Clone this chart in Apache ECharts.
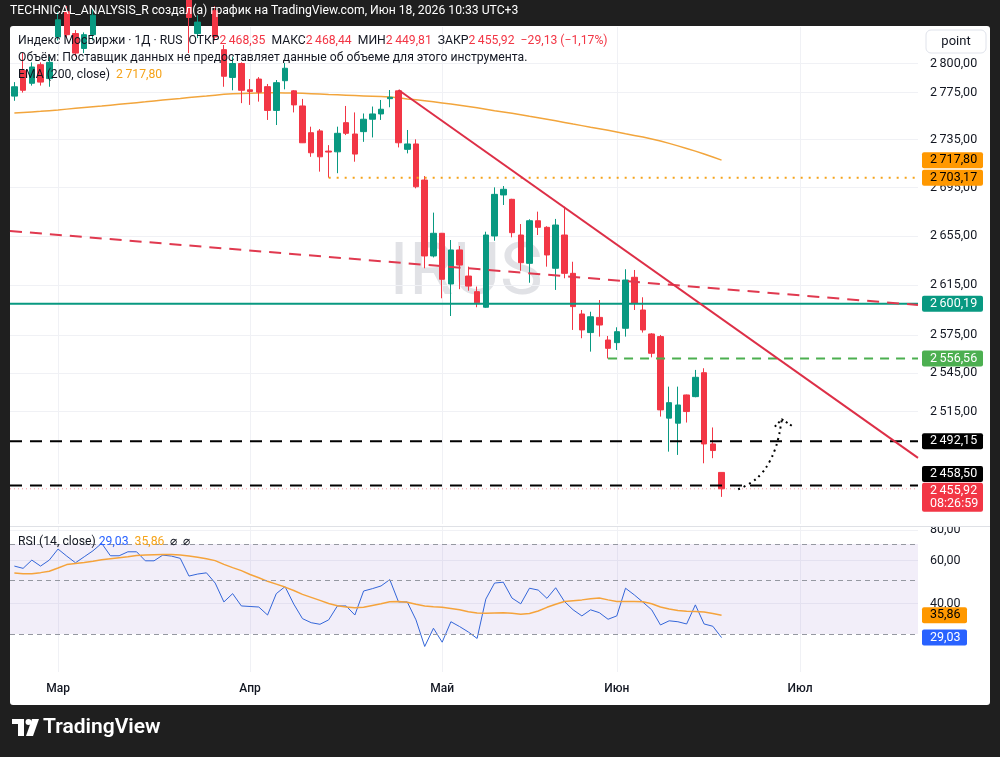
<!DOCTYPE html>
<html>
<head>
<meta charset="utf-8">
<title>IRUS</title>
<script src="https://cdn.jsdelivr.net/npm/echarts@6/dist/echarts.min.js"></script>
<style>
  html, body { margin: 0; padding: 0; background: #1f1f1f; }
  #chart { width: 1000px; height: 757px; }
</style>
</head>
<body>
<div id="chart"></div>
<script>
// торговые дни (категории оси X)
var febDays = [20, 24, 25, 26, 27];
var marDays = [2,3,4,5,6,9,10,11,12,13,16,17,18,19,20,23,24,25,26,27,30,31];
var aprDays = [1,2,3,6,7,8,9,10,13,14,15,16,17,20,21,22,23,24,27,28,29,30];
var mayDays = [4,5,6,7,8,11,12,13,14,15,18,19,20,21,22,25,26,27,28,29];
var junDays = [1,2,3,4,5,8,9,10,11,15,16,17,18,19,22,23,24,25,26,29,30];
var julDays = [1,2,3,6,7,8,9,10,13,14,15,16,17,20];
var monthNames = { '03': 'Мар', '04': 'Апр', '05': 'Май', '06': 'Июн', '07': 'Июл' };

// свечи: [откр, закр, мин, макс]
var candles = [
  [2772, 2780, 2768, 2784], [2794, 2777, 2775, 2809], [2783, 2797, 2781, 2801], [2799, 2784, 2781, 2801], [2787, 2801, 2780, 2806],
  [2823, 2838, 2820, 2845], [2845, 2825, 2822, 2850], [2826, 2809, 2806, 2829], [2813, 2825, 2809, 2827], [2825, 2842, 2820, 2848],
  [2842, 2858, 2836, 2862], [2858, 2850, 2844, 2866], [2850, 2868, 2846, 2874], [2868, 2880, 2860, 2888], [2880, 2872, 2865, 2890],
  [2872, 2862, 2855, 2884], [2862, 2858, 2848, 2870], [2858, 2870, 2852, 2876], [2870, 2866, 2856, 2878], [2866, 2860, 2848, 2872],
  [2860, 2840, 2809, 2864], [2826, 2836, 2822, 2842], [2836, 2848, 2834, 2852], [2846, 2823, 2820, 2850], [2812, 2789, 2780, 2816],
  [2788, 2800, 2777, 2806], [2800, 2777, 2766, 2801], [2777.4, 2776, 2764.5, 2786.6], [2786.6, 2775.4, 2767.3, 2788.3], [2780.1, 2759.8, 2751.7, 2782.4],
  [2759.8, 2783.5, 2747.4, 2785.8], [2785.2, 2795.9, 2777.8, 2800.4], [2776.5, 2764.5, 2758.1, 2777.1], [2763.6, 2732.4, 2732.2, 2769.6], [2740.9, 2724.0, 2720.6, 2746.0],
  [2742.4, 2720.6, 2708.2, 2744.0], [2725.4, 2724.6, 2703.17, 2730.4], [2724.8, 2740.4, 2706.9, 2746.0], [2749.4, 2740.4, 2738.9, 2763.6], [2739.8, 2722.9, 2716.5, 2758.1],
  [2741.8, 2752.3, 2733.2, 2757.2], [2752.3, 2756.8, 2736.9, 2763.1], [2756.8, 2760.8, 2751.7, 2768.7], [2769.8, 2771.0, 2762.5, 2777.2], [2776.5, 2732.4, 2728.5, 2777.2],
  [2726.9, 2731.4, 2723.5, 2743.2], [2731.4, 2695.6, 2694.3, 2735.3], [2701.2, 2638.7, 2628.7, 2704.5], [2638.7, 2657.2, 2637.5, 2674.2], [2657.2, 2619.8, 2604.5, 2657.5],
  [2616.0, 2643.6, 2590.3, 2651.7], [2643.6, 2631.3, 2611.8, 2646.8], [2622.4, 2614.3, 2610.6, 2630.0], [2609.8, 2600.9, 2597.3, 2613.9], [2597.3, 2655.8, 2596.8, 2658.5],
  [2655.0, 2689.3, 2651.1, 2695.1], [2688.8, 2693.5, 2680.5, 2696.2], [2685.2, 2657.7, 2653.9, 2685.6], [2655.8, 2633.2, 2626.7, 2664.8], [2632.7, 2667.5, 2617.0, 2668.7],
  [2667.5, 2662.1, 2655.8, 2675.0], [2662.1, 2639.5, 2630.0, 2663.0], [2628.7, 2664.0, 2611.2, 2669.0], [2655.8, 2624.6, 2620.6, 2679.1], [2624.6, 2597.8, 2579.2, 2634.0],
  [2591.9, 2579.2, 2572.6, 2595.1], [2577.1, 2589.7, 2562.0, 2593.7], [2589.2, 2583.1, 2573.9, 2603.1], [2571.2, 2564.6, 2556.56, 2574.4], [2569.1, 2577.8, 2563.3, 2581.3],
  [2580.5, 2619.2, 2573.9, 2627.9], [2621.4, 2600.5, 2595.1, 2627.3], [2595.1, 2579.2, 2577.1, 2605.3], [2576.0, 2560.7, 2557.5, 2576.6], [2573.9, 2516.4, 2511.2, 2575.2],
  [2510.0, 2522.0, 2484.2, 2534.5], [2506.1, 2520.2, 2481.7, 2534.5], [2528.0, 2515.1, 2506.6, 2528.3], [2526.7, 2541.8, 2526.2, 2547.6], [2545.4, 2490.1, 2475.3, 2548.9],
  [2490.1, 2485.05, 2479.2, 2502.8], [2468.35, 2455.92, 2449.81, 2468.44]
];

var ema200 = [
  2757.5, 2758.0, 2758.5, 2759.0, 2759.6,
  2760.2, 2760.9, 2761.6, 2762.3, 2763.0, 2763.6, 2764.3, 2765.0, 2765.7, 2766.4,
  2767.1, 2767.9, 2768.6, 2769.3, 2770.0, 2770.8, 2771.5, 2772.1, 2772.8, 2773.5,
  2774.0, 2774.3, 2774.5, 2774.7, 2774.8, 2774.8, 2774.7, 2774.6, 2774.4, 2774.1,
  2773.8, 2773.4, 2773.1, 2772.8, 2772.5, 2772.2, 2771.9, 2771.6, 2771.2, 2770.5,
  2769.6, 2768.9, 2768.1, 2767.2, 2766.2, 2765.2, 2764.2, 2763.1, 2762.0, 2760.8,
  2759.6, 2758.5, 2757.3, 2756.1, 2754.8, 2753.6, 2752.3, 2751.0, 2749.6, 2748.2,
  2746.9, 2745.5, 2744.2, 2742.9, 2741.5, 2740.0, 2738.6, 2737.2, 2735.6, 2733.9,
  2731.9, 2729.8, 2727.6, 2725.4, 2722.9, 2720.4, 2717.8
];

var rsi14 = [
  56.9, 55.7, 60.2, 56.9, 60.2,
  66.8, 62.5, 58.7, 62.1, 65.7, 70.5, 62.7, 62.7, 65.1, 65.1,
  59.8, 59.8, 63.1, 62.5, 61.2, 51.8, 52.8, 53.4, 48.5, 40.6,
  43.9, 39.1, 38.9, 38.7, 35.9, 43.9, 46.9, 39.8, 34.7, 33.4,
  32.9, 34.3, 39.1, 39.1, 35.9, 45.0, 46.0, 47.2, 50.1, 40.6,
  40.6, 34.3, 26.7, 31.7, 27.8, 33.7, 32.2, 30.6, 28.8, 41.7,
  48.5, 48.9, 42.1, 39.9, 46.2, 45.4, 42.0, 46.4, 40.8, 37.7,
  35.6, 37.7, 36.7, 34.5, 35.6, 46.2, 43.4, 40.5, 37.7, 32.7,
  34.0, 33.7, 33.0, 39.5, 33.0, 32.3, 29.03
];

var rsiMa = [
  53.3, 53.0, 52.9, 53.5, 54.2,
  55.9, 57.7, 58.3, 58.9, 59.6, 60.4, 61.0, 61.6, 62.1, 62.8,
  63.1, 63.3, 63.4, 63.4, 63.1, 62.5, 61.9, 61.0, 59.9, 57.8,
  56.1, 54.5, 52.6, 51.0, 49.3, 48.0, 46.7, 45.2, 43.6, 42.4,
  41.2, 40.0, 39.2, 38.7, 38.4, 38.6, 39.3, 39.9, 40.7, 40.8,
  40.5, 39.7, 39.1, 38.8, 38.6, 38.2, 37.7, 37.0, 36.6, 36.5,
  36.6, 36.7, 36.5, 36.2, 36.4, 37.3, 38.6, 39.7, 40.8, 41.1,
  41.4, 41.8, 42.1, 41.4, 40.8, 40.8, 40.8, 40.7, 39.9, 38.7,
  38.0, 37.5, 37.2, 37.1, 36.9, 36.4, 35.86
];

var priceTicks = [2800, 2775, 2735, 2695, 2655, 2615, 2575, 2545, 2515];
var rsiTicks = [80, 60, 40];
var rsiLevels = [70, 50, 30];

// рисунки на графике: [индекс бара, цена]
var trendLine = [[44, 2777.2], [103.5, 2479.4]];
var slopeDashed = [[-0.5, 2659.1], [103.5, 2599.1]];
var arrowPath = [[82.9, 2455.6], [84.4, 2460.6], [85.6, 2467.7], [86.5, 2476.6], [87.1, 2485.5], [87.5, 2494.5], [87.8, 2504.7], [87.9, 2509.1]];
var arrowHead = [[87.1, 2503.4], [87.9, 2509.1], [89.2, 2503.4]];
var levelTeal = 2600.19, levelOrange = 2703.17, levelGreen = 2556.56, levelBlack1 = 2492.15, levelBlack2 = 2458.50;
var orangeStart = 36, greenStart = 68;

var FONT = 'Roboto, "Noto Sans", sans-serif';
var INK = '#131722';
var FS = 12.2;

var dates = [];
[['02', febDays], ['03', marDays], ['04', aprDays], ['05', mayDays], ['06', junDays], ['07', julDays]].forEach(function (m) {
  m[1].forEach(function (d) { dates.push('2026-' + m[0] + '-' + (d < 10 ? '0' + d : d)); });
});
var monthStarts = [];
dates.forEach(function (d, i) {
  if (i > 0 && d.slice(5, 7) !== dates[i - 1].slice(5, 7)) monthStarts.push(i);
});

function fmt2(v) {
  var s = Math.abs(v).toFixed(2).split('.');
  return (v < 0 ? '\u2212' : '') + s[0].replace(/\B(?=(\d{3})+(?!\d))/g, '\u2009') + ',' + s[1];
}
var L = Math.log;
function hline(p, x0) { return [[x0, L(p)], [103.5, L(p)]]; }
function logPts(arr) { return arr.map(function (r) { return [r[0], L(r[1])]; }); }

function drawLine(data, color, width, type, extra) {
  var s = {
    type: 'line', xAxisIndex: 2, yAxisIndex: 0, data: data, showSymbol: false, silent: true,
    lineStyle: { color: color, width: width, type: type }, z: 4, animation: false
  };
  if (extra) for (var k in extra) s[k] = extra[k];
  return s;
}

var chart = echarts.init(document.getElementById('chart'));

var option = {
  animation: false,
  backgroundColor: '#1f1f1f',
  textStyle: { fontFamily: FONT },
  grid: [
    { left: 10, top: 27, width: 908, height: 497, outerBoundsMode: 'none' },
    { left: 10, top: 527, width: 908, height: 145, outerBoundsMode: 'none' }
  ],
  xAxis: [
    { type: 'category', gridIndex: 0, data: dates, axisLine: { show: false }, axisTick: { show: false }, axisLabel: { show: false }, splitLine: { show: false } },
    {
      type: 'category', gridIndex: 1, data: dates, axisLine: { show: false }, axisTick: { show: false }, splitLine: { show: false },
      axisLabel: {
        interval: function (i) { return monthStarts.indexOf(i) >= 0; },
        formatter: function (v) { return monthNames[v.slice(5, 7)]; },
        color: INK, fontSize: 12, fontWeight: 500, margin: 11
      }
    },
    {
      type: 'value', gridIndex: 0, position: 'top', min: -0.5, max: 103.5,
      axisLine: { show: false }, axisTick: { show: false, customValues: monthStarts }, axisLabel: { show: false },
      splitLine: { show: true, lineStyle: { color: '#f0f1f5', width: 1 } }
    },
    {
      type: 'value', gridIndex: 1, position: 'top', min: -0.5, max: 103.5,
      axisLine: { show: false }, axisTick: { show: false, customValues: monthStarts }, axisLabel: { show: false },
      splitLine: { show: true, lineStyle: { color: '#f0f1f5', width: 1 } }
    }
  ],
  yAxis: [
    {
      type: 'value', gridIndex: 0, position: 'right', min: L(2429.4), max: L(2831.7),
      axisLine: { show: false }, axisTick: { show: false, customValues: priceTicks.map(L) },
      axisLabel: { customValues: priceTicks.map(L), formatter: function (v) { return fmt2(Math.round(Math.exp(v))); }, color: INK, fontSize: 12.5, margin: 12 },
      splitLine: { show: true, lineStyle: { color: '#f0f1f5', width: 1 } }
    },
    {
      type: 'value', gridIndex: 1, position: 'right', min: L(21.0), max: L(82.2),
      axisLine: { show: false }, axisTick: { show: false, customValues: rsiTicks.map(L) },
      axisLabel: { customValues: rsiTicks.map(L), formatter: function (v) { return fmt2(Math.round(Math.exp(v))); }, color: INK, fontSize: 12.5, margin: 12 },
      splitLine: { show: true, lineStyle: { color: '#f0f1f5', width: 1 } }
    }
  ],
  series: [
    {
      type: 'candlestick', xAxisIndex: 0, yAxisIndex: 0, z: 3, barWidth: 6,
      data: candles.map(function (r) { return r.map(L); }),
      itemStyle: { color: '#089981', color0: '#f23645', borderColor: '#089981', borderColor0: '#f23645', borderColorDoji: '#f23645', borderWidth: 1 }
    },
    {
      type: 'line', xAxisIndex: 0, yAxisIndex: 0, data: ema200.map(L), showSymbol: false, z: 2,
      lineStyle: { color: '#f2a53c', width: 1.5 }
    },
    drawLine(hline(levelTeal, -0.5), '#089981', 2, 'solid'),
    drawLine(hline(levelOrange, orangeStart), '#f5a31a', 2, [2, 6]),
    drawLine(hline(levelGreen, greenStart), '#4caf50', 2, [9, 7]),
    drawLine(hline(levelBlack1, -0.5), '#000000', 2, [12, 8]),
    drawLine(hline(levelBlack2, -0.5), '#000000', 2, [12, 8]),
    drawLine(hline(candles[candles.length - 1][1], -0.5), 'rgba(242,54,69,0.55)', 1, [1, 3]),
    drawLine(logPts(slopeDashed), '#e0394f', 2, [12, 8]),
    drawLine(logPts(trendLine), '#dd2f47', 2, 'solid'),
    drawLine(logPts(arrowPath), '#000000', 2, [2, 4], { smooth: 0.4 }),
    drawLine(logPts(arrowHead), '#000000', 2, [2, 3]),
    {
      type: 'line', xAxisIndex: 1, yAxisIndex: 1, data: rsi14.map(L), showSymbol: false, z: 3,
      lineStyle: { color: '#3466d9', width: 1 },
      markArea: { silent: true, itemStyle: { color: 'rgba(126,87,194,0.1)' }, data: [[{ yAxis: L(70) }, { yAxis: L(30) }]] },
      markLine: {
        silent: true, symbol: 'none', label: { show: false },
        lineStyle: { color: '#9598a1', type: [5, 4], width: 1 },
        data: rsiLevels.map(function (v) { return { yAxis: L(v) }; })
      }
    },
    {
      type: 'line', xAxisIndex: 1, yAxisIndex: 1, data: rsiMa.map(L), showSymbol: false, z: 3,
      lineStyle: { color: '#f5a33b', width: 1.5 }
    }
  ]
};
chart.setOption(option);

// подписи и плашки, которые ставятся по шкалам графика
var py = function (p) { return chart.convertToPixel({ yAxisIndex: 0 }, L(p)); };
var ry = function (v) { return chart.convertToPixel({ yAxisIndex: 1 }, L(v)); };
var last = candles[candles.length - 1];
var prev = candles[candles.length - 2];
var chg = last[1] - prev[1];

function tag(y, text, bg, fg, w) {
  return {
    type: 'group', z: 50, children: [
      { type: 'rect', shape: { x: 922, y: y - 8, width: w || 61, height: 16, r: 2 }, style: { fill: bg }, z: 50 },
      { type: 'text', x: 930, y: y, style: { text: text, fill: fg, font: '12.5px ' + FONT, verticalAlign: 'middle', align: 'left' }, z: 51 }
    ]
  };
}

var rich = {
  k: { fill: INK, fontSize: FS, fontFamily: FONT },
  r: { fill: '#f23645', fontSize: FS, fontFamily: FONT },
  o: { fill: '#f5a31a', fontSize: FS, fontFamily: FONT },
  b: { fill: '#2962ff', fontSize: FS, fontFamily: FONT }
};

var graphics = [
  { type: 'rect', shape: { x: 10, y: 26, width: 980, height: 679, r: 3 }, style: { fill: '#ffffff' }, z: -100 },
  { type: 'text', x: 10, y: 11, z: 60, style: { text: 'TECHNICAL_ANALYSIS_R создал(а) график на TradingView.com, Июн 18, 2026 10:33 UTC+3', fill: '#ffffff', font: FS + 'px ' + FONT, verticalAlign: 'middle' } },
  { type: 'text', x: 466, y: 276, z: -50, style: { text: 'IRUS', fill: '#e1e2e6', font: '72px ' + FONT, align: 'center', verticalAlign: 'middle' } },
  {
    type: 'text', x: 18, y: 41, z: 60, style: {
      text: '{k|Индекс МосБиржи · 1Д · RUS  ОТКР}{r|' + fmt2(last[0]) + '}{k|  МАКС}{r|' + fmt2(last[3]) + '}{k|  МИН}{r|' + fmt2(last[2]) +
        '}{k|  ЗАКР}{r|' + fmt2(last[1]) + '}{r|  ' + fmt2(chg) + ' (' + fmt2(chg / prev[1] * 100) + '%)}',
      rich: rich, verticalAlign: 'middle'
    }
  },
  { type: 'text', x: 18, y: 58, z: 60, style: { text: 'Объём: Поставщик данных не предоставляет данные об объеме для этого инструмента.', fill: INK, font: FS + 'px ' + FONT, verticalAlign: 'middle' } },
  { type: 'text', x: 18, y: 75, z: 60, style: { text: '{k|EMA (200, close)}{k|  }{o|' + fmt2(ema200[ema200.length - 1]) + '}', rich: rich, verticalAlign: 'middle' } },
  { type: 'text', x: 18, y: 542, z: 60, style: { text: '{k|RSI (14, close)}{k| }{b|' + fmt2(rsi14[rsi14.length - 1]) + '}{k|  }{o|' + fmt2(rsiMa[rsiMa.length - 1]) + '}{k|  ⌀  ⌀}', rich: rich, verticalAlign: 'middle' } },
  // шапка шкалы
  { type: 'rect', shape: { x: 926, y: 30, width: 60, height: 23, r: 5 }, style: { fill: '#ffffff', stroke: '#e0e3eb', lineWidth: 1 }, z: 60 },
  { type: 'text', x: 956, y: 41.5, z: 61, style: { text: 'point', fill: INK, font: '13px ' + FONT, align: 'center', verticalAlign: 'middle' } },
  // разделитель панелей
  { type: 'rect', shape: { x: 919, y: 512, width: 70, height: 14 }, style: { fill: '#ffffff' }, z: 40 },
  { type: 'line', shape: { x1: 10, y1: 526.5, x2: 990, y2: 526.5 }, style: { stroke: '#dfe1e6', lineWidth: 1 }, z: 41 },
  tag(py(ema200[ema200.length - 1]), fmt2(ema200[ema200.length - 1]), '#ff9800', '#000000'),
  tag(py(levelOrange), fmt2(levelOrange), '#ff9800', '#000000'),
  tag(py(levelTeal), fmt2(levelTeal), '#089981', '#ffffff'),
  tag(py(levelGreen), fmt2(levelGreen), '#4caf50', '#ffffff'),
  tag(py(levelBlack1), fmt2(levelBlack1), '#000000', '#ffffff'),
  tag(py(levelBlack2) - 11.5, fmt2(levelBlack2), '#000000', '#ffffff'),
  {
    type: 'group', z: 50, children: [
      { type: 'rect', shape: { x: 922, y: py(last[1]) - 6, width: 61, height: 29, r: 2 }, style: { fill: '#f23645' }, z: 50 },
      { type: 'text', x: 930, y: py(last[1]) + 2, style: { text: fmt2(last[1]), fill: '#ffffff', font: '12.5px ' + FONT, verticalAlign: 'middle' }, z: 51 },
      { type: 'text', x: 930, y: py(last[1]) + 15, style: { text: '08:26:59', fill: '#ffffff', font: '12.5px ' + FONT, verticalAlign: 'middle' }, z: 51 }
    ]
  },
  tag(ry(rsiMa[rsiMa.length - 1]), fmt2(rsiMa[rsiMa.length - 1]), '#ff9800', '#000000', 45),
  tag(ry(rsi14[rsi14.length - 1]), fmt2(rsi14[rsi14.length - 1]), '#2962ff', '#ffffff', 45),
  // логотип
  {
    type: 'group', z: 60, children: [
      { type: 'rect', shape: { x: 12, y: 719, width: 12, height: 5 }, style: { fill: '#ffffff' } },
      { type: 'rect', shape: { x: 18, y: 719, width: 6, height: 17 }, style: { fill: '#ffffff' } },
      { type: 'circle', shape: { cx: 28.5, cy: 722, r: 3 }, style: { fill: '#ffffff' } },
      { type: 'polygon', shape: { points: [[32, 719], [39, 719], [33, 736], [26, 736]] }, style: { fill: '#ffffff' } },
      { type: 'text', x: 43, y: 728, style: { text: 'TradingView', fill: '#ffffff', font: '600 21px ' + FONT, verticalAlign: 'middle' } }
    ]
  }
];
chart.setOption({ graphic: graphics });
</script>
</body>
</html>
